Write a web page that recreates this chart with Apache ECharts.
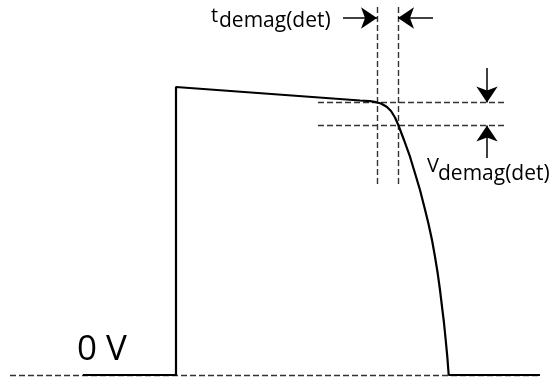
<!DOCTYPE html>
<html>
<head>
<meta charset="utf-8">
<script src="https://cdn.jsdelivr.net/npm/echarts@6/dist/echarts.min.js"></script>
<style>
  html, body { margin: 0; padding: 0; background: #fff; }
  #chart { width: 556px; height: 379px; }
</style>
</head>
<body>
<div id="chart"></div>
<script>
// waveform: [time, volts] (arbitrary units, 0 V = baseline)
const waveTime = [83, 176, 176, 360, 370, 376, 381, 386.7, 391, 395, 398.3, 404, 410, 415, 420, 424.3, 428.3, 432, 435, 437.7, 440, 442, 444, 445.7, 447.3, 448.7, 540]
const waveVolt = [0, 0, 288, 274.5, 273.8, 272.8, 271.5, 268.3, 264, 257.5, 250, 235, 218.3, 201.7, 185, 168.3, 152, 135, 118.3, 101.7, 85, 68.3, 52, 35, 18.3, 0, 0]

// detection point
const tDet = [377, 398]          // t_demag(det) window
const vDet = [272.5, 249.5]      // V_demag(det) window

// guide lines (dashed)
const guides = [
  [[10, 0], [540, 0]],
  [[tDet[0], 368], [tDet[0], 188]],
  [[tDet[1], 368], [tDet[1], 188]],
  [[318, vDet[0]], [505, vDet[0]]],
  [[318, vDet[1]], [505, vDet[1]]]
]

// dimension arrows
const arrows = [
  [[343, 357], [tDet[0], 357]],
  [[433, 357], [tDet[1], 357]],
  [[487, 307], [487, vDet[0]]],
  [[487, 217], [487, vDet[1]]]
]

const labelFont = '"Open Sans", "DejaVu Sans", sans-serif'

const chart = echarts.init(document.getElementById('chart'))

chart.setOption({
  animation: false,
  grid: { left: 0, right: 0, top: 0, bottom: 0 },
  xAxis: { type: 'value', min: 0, max: 556, show: false },
  yAxis: { type: 'value', min: -4, max: 375, show: false },
  series: [
    {
      type: 'lines',
      coordinateSystem: 'cartesian2d',
      silent: true,
      lineStyle: { color: '#333', width: 1.4, type: [6, 3], opacity: 1 },
      data: guides.map(c => ({ coords: c }))
    },
    {
      type: 'line',
      silent: true,
      showSymbol: false,
      lineStyle: { color: '#000', width: 2.2 },
      data: waveTime.map((t, i) => [t, waveVolt[i]])
    },
    {
      type: 'lines',
      coordinateSystem: 'cartesian2d',
      silent: true,
      symbol: ['none', 'arrow'],
      symbolSize: [11, 16],
      lineStyle: { color: '#000', width: 1.5, opacity: 1 },
      data: arrows.map(c => ({ coords: c }))
    }
  ],
  graphic: [
    { type: 'text', x: 77, y: 350, style: { text: '0 V', font: '35px ' + labelFont, fill: '#000', verticalAlign: 'middle' } },
    { type: 'text', x: 211, y: 16, style: { text: 't', font: '20px ' + labelFont, fill: '#000', verticalAlign: 'middle' } },
    { type: 'text', x: 219, y: 21, style: { text: 'demag(det)', font: '21px ' + labelFont, fill: '#000', verticalAlign: 'middle' } },
    { type: 'text', x: 427, y: 166, style: { text: 'V', font: '20px ' + labelFont, fill: '#000', verticalAlign: 'middle' } },
    { type: 'text', x: 438, y: 174, style: { text: 'demag(det)', font: '21px ' + labelFont, fill: '#000', verticalAlign: 'middle' } }
  ]
})
</script>
</body>
</html>
